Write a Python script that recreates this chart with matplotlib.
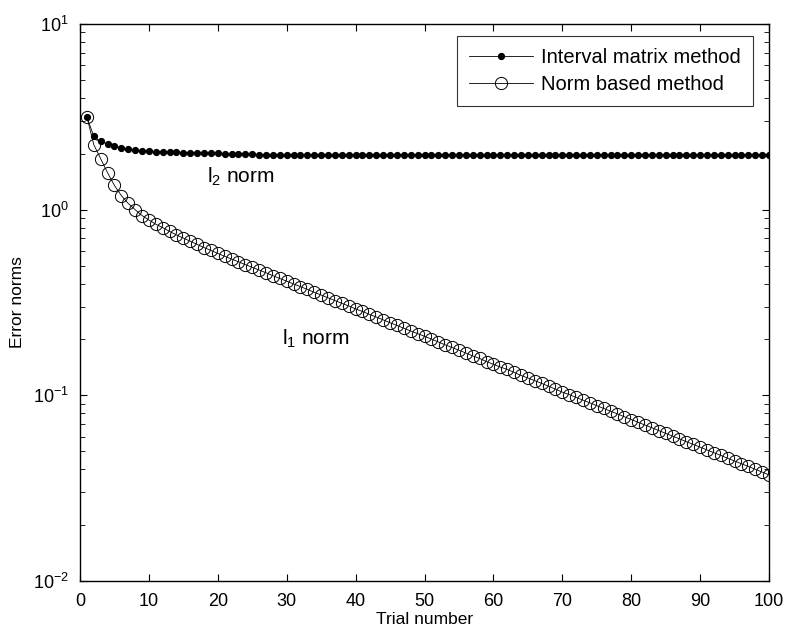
import matplotlib
matplotlib.use("Agg")
import matplotlib.pyplot as plt
import numpy as np

plt.rcParams['font.family'] = ['Liberation Sans', 'DejaVu Sans']
plt.rcParams['mathtext.fontset'] = 'custom'
plt.rcParams['mathtext.rm'] = 'Liberation Sans'
plt.rcParams['mathtext.it'] = 'Liberation Sans'

trials = list(range(1, 101))

interval_matrix = [3.16, 2.48, 2.33, 2.26, 2.21, 2.15, 2.12, 2.10, 2.08, 2.07,
                   2.05, 2.05, 2.04, 2.04, 2.03, 2.03, 2.03, 2.02, 2.02, 2.02,
                   2.00, 2.00, 2.00, 2.00, 2.00, 1.97, 1.97, 1.97, 1.97, 1.97,
                   1.97, 1.97, 1.97, 1.97, 1.97, 1.97, 1.97, 1.97, 1.97, 1.97,
                   1.97, 1.97, 1.97, 1.97, 1.97, 1.97, 1.97, 1.97, 1.97, 1.97,
                   1.97, 1.97, 1.97, 1.97, 1.97, 1.97, 1.97, 1.97, 1.97, 1.97,
                   1.97, 1.97, 1.97, 1.97, 1.97, 1.97, 1.97, 1.97, 1.97, 1.97,
                   1.97, 1.97, 1.97, 1.97, 1.97, 1.97, 1.97, 1.97, 1.97, 1.97,
                   1.97, 1.97, 1.97, 1.97, 1.97, 1.97, 1.97, 1.97, 1.97, 1.97,
                   1.97, 1.97, 1.97, 1.97, 1.97, 1.97, 1.97, 1.97, 1.97, 1.97]

norm_based = [3.16, 2.24, 1.88, 1.58, 1.35, 1.19, 1.08, 1.00, 0.93, 0.88,
              0.835, 0.80, 0.764, 0.731, 0.703, 0.676, 0.650, 0.625, 0.603, 0.581,
              0.561, 0.542, 0.524, 0.506, 0.489, 0.473, 0.457, 0.441, 0.426, 0.412,
              0.398, 0.385, 0.372, 0.359, 0.347, 0.335, 0.324, 0.313, 0.303, 0.292,
              0.283, 0.273, 0.264, 0.255, 0.246, 0.238, 0.230, 0.222, 0.215, 0.208,
              0.201, 0.194, 0.187, 0.181, 0.175, 0.169, 0.163, 0.158, 0.152, 0.147,
              0.142, 0.138, 0.133, 0.128, 0.124, 0.120, 0.116, 0.112, 0.108, 0.104,
              0.101, 0.0975, 0.0942, 0.0911, 0.0880, 0.0850, 0.0821, 0.0794, 0.0767, 0.0741,
              0.0716, 0.0692, 0.0669, 0.0646, 0.0624, 0.0603, 0.0583, 0.0563, 0.0544, 0.0526,
              0.0508, 0.0491, 0.0475, 0.0458, 0.0443, 0.0428, 0.0414, 0.0400, 0.0386, 0.0373]

L, R, T, B = 80, 769, 24, 581
fig = plt.figure(figsize=(7.88, 6.36), dpi=100)
ax = fig.add_axes([L/788, 1-B/636, (R-L)/788, (B-T)/636])

ax.plot(trials, norm_based, '-', color='black', linewidth=0.6, marker='o',
        markersize=8.8, markerfacecolor='none', markeredgecolor='black',
        markeredgewidth=0.7, label='Norm based method', zorder=2)
ax.plot(trials, interval_matrix, '-', color='black', linewidth=0.6, marker='o',
        markersize=4.2, markerfacecolor='black', markeredgecolor='black',
        label='Interval matrix method', zorder=3)

ax.set_yscale('log')
ax.set_xlim(0, 100)
ax.set_ylim(1e-2, 1e1)
ax.set_xticks(np.arange(0, 101, 10))

ax.tick_params(which='both', direction='in', top=True, right=True, labelsize=13)
ax.tick_params(which='major', length=5, width=0.8)
ax.tick_params(which='minor', length=3.5, width=0.6)
ax.tick_params(axis='x', which='major', pad=9)
ax.tick_params(axis='y', which='major', pad=8)
ax.tick_params(axis='x', which='minor', bottom=False, top=False)
for s in ax.spines.values():
    s.set_linewidth(1.0)

ax.set_xlabel('Trial number', fontsize=12.5, labelpad=1)
ax.set_ylabel('Error norms', fontsize=12.5, labelpad=6)

ax.text(18.4, 1.40, r'l$_2$ norm', fontsize=15, ha='left', va='baseline')
ax.text(29.3, 0.188, r'l$_1$ norm', fontsize=15, ha='left', va='baseline')

handles, labels = ax.get_legend_handles_labels()
leg = ax.legend(handles[::-1], labels[::-1], loc='upper right', fontsize=14.5,
                frameon=True, fancybox=False, edgecolor='black',
                bbox_to_anchor=(1 - 16/689, 1 - 12/557), borderaxespad=0,
                handlelength=3.2, borderpad=0.6, labelspacing=0.4,
                handletextpad=0.4)
leg.get_frame().set_linewidth(0.8)

fig.savefig('out.png', dpi=100)
